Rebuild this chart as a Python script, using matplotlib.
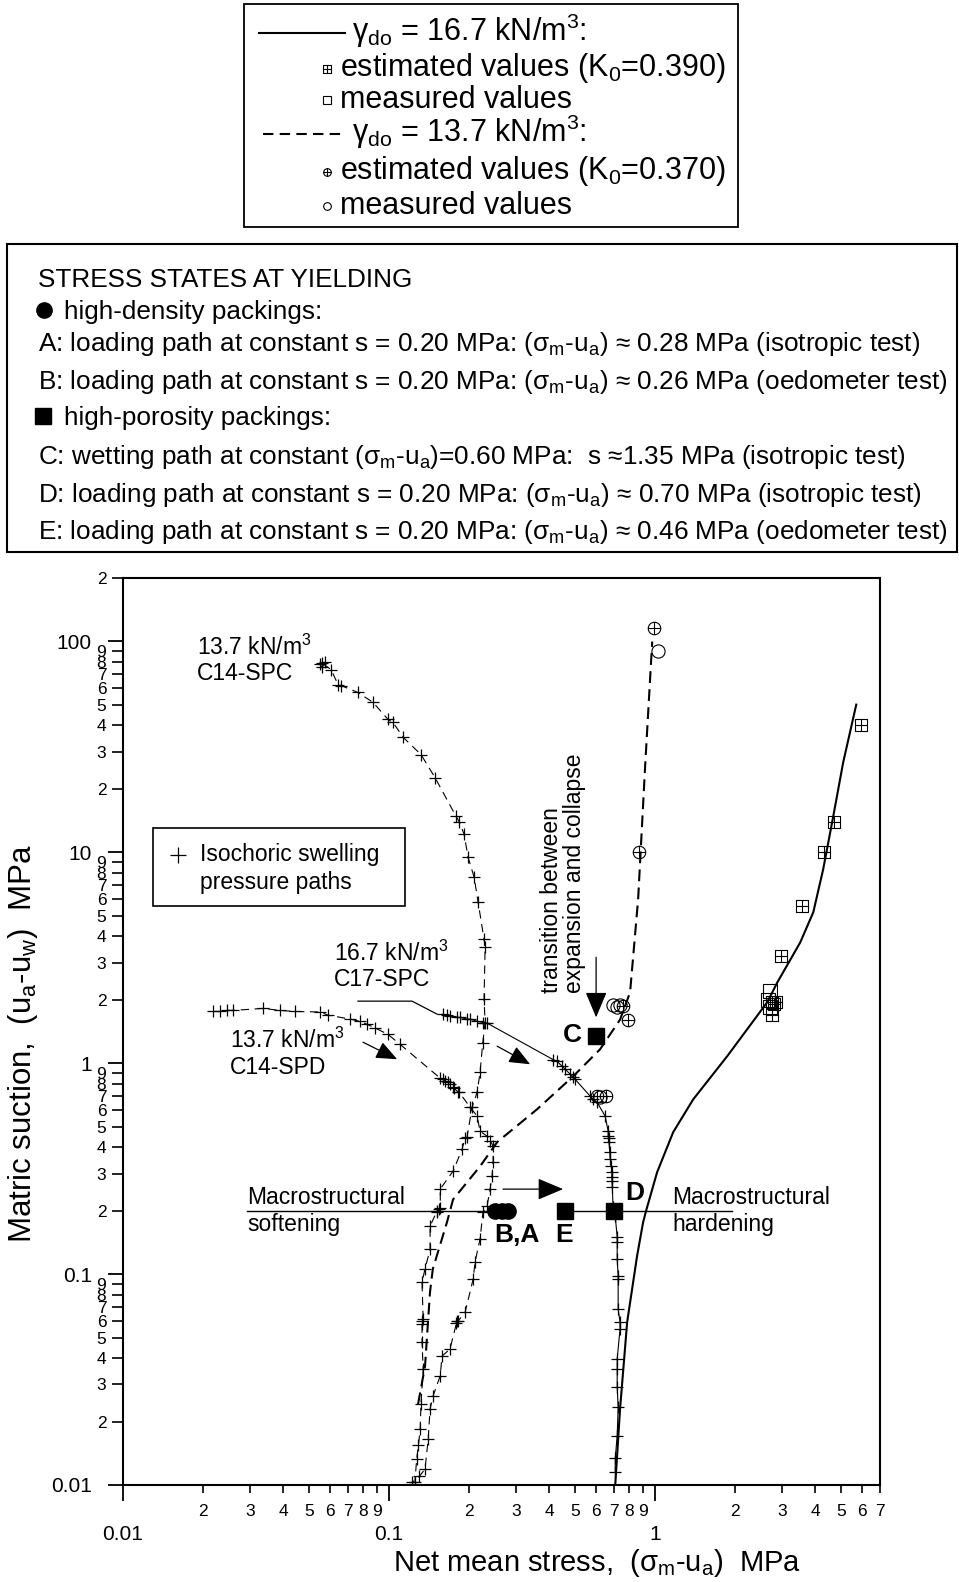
import numpy as np
import matplotlib
matplotlib.use("Agg")
import matplotlib.pyplot as plt
from matplotlib.path import Path
from matplotlib.patches import Rectangle
from matplotlib.lines import Line2D
from matplotlib.ticker import FixedLocator, FixedFormatter, FuncFormatter

plt.rcParams['font.family'] = ['Liberation Sans', 'DejaVu Sans']
plt.rcParams['mathtext.fontset'] = 'custom'
plt.rcParams['mathtext.rm'] = 'Liberation Sans'
plt.rcParams['mathtext.it'] = 'Liberation Sans:italic'
plt.rcParams['mathtext.bf'] = 'Liberation Sans:bold'
plt.rcParams['lines.scale_dashes'] = False

W, H = 959, 1582

# ---------------- model curves (net mean stress p, suction s, MPa) ----------------
model167_p = [0.708, 0.738, 0.785, 0.855, 0.901, 0.925, 1.017, 1.169, 1.39, 1.866,
              2.64, 2.88, 3.51, 3.93, 4.28, 4.67, 5.09, 5.70]
model167_s = [0.01, 0.0229, 0.0593, 0.1216, 0.176, 0.2, 0.304, 0.471, 0.674, 1.08,
              1.95, 2.42, 3.74, 5.2, 8.3, 14.8, 26.7, 50.2]

model137_p = [0.1285, 0.1365, 0.1425, 0.146, 0.165, 0.174, 0.220, 0.255, 0.360,
              0.492, 0.621, 0.738, 0.805, 0.863, 0.917, 0.975]
model137_s = [0.0242, 0.0366, 0.0822, 0.1057, 0.176, 0.226, 0.325, 0.423, 0.605,
              0.867, 1.165, 1.61, 2.17, 5.98, 25.6, 100]

# ---------------- K0 estimates and measurements ----------------
est167_p = [2.75, 2.80, 2.75, 2.85, 2.98, 3.57, 4.32, 4.71, 5.94]
est167_s = [1.95, 1.90, 1.70, 1.95, 3.21, 5.55, 10.0, 13.9, 40.0]
meas167_p = [2.70, 2.65, 2.70]
meas167_s = [2.20, 2.00, 1.85]

est137_p = [0.99, 0.871, 0.758, 0.792, 0.605, 0.655]
est137_s = [116, 10.0, 1.86, 1.61, 0.698, 0.70]
meas137_p = [1.026, 0.695, 0.738, 0.72, 0.62]
meas137_s = [90.6, 1.88, 1.89, 1.85, 0.69]

# ---------------- isochoric swelling pressure paths ----------------
spc14_p = [0.0550, 0.0560, 0.0575, 0.0560, 0.0605, 0.0643, 0.0660, 0.0764, 0.0871,
           0.0991, 0.1035, 0.1130, 0.1318, 0.1489, 0.1786, 0.1833, 0.1914, 0.1982,
           0.2088, 0.2161, 0.2275, 0.2296, 0.2275, 0.2296, 0.225, 0.2198, 0.2143,
           0.2051, 0.1963, 0.1930, 0.1880, 0.1741, 0.1556, 0.156, 0.1541, 0.152,
           0.1514, 0.1426, 0.1426, 0.1365, 0.1330, 0.1343, 0.1335, 0.1330, 0.1330,
           0.1343, 0.1318, 0.1309, 0.1290, 0.1270, 0.1250]
spc14_s = [77.8, 75.3, 79.5, 79.0, 73.6, 62.5, 61.8, 57.3, 51.4,
           42.7, 41.3, 35.1, 29.1, 22.6, 14.8, 14.0, 12.2, 9.46,
           7.62, 5.80, 3.87, 3.55, 2.01, 1.56, 1.25, 0.906, 0.729,
           0.619, 0.446, 0.44, 0.391, 0.308, 0.253, 0.205, 0.203, 0.196,
           0.199, 0.169, 0.131, 0.106, 0.0917, 0.0612, 0.060, 0.0580, 0.0476,
           0.0355, 0.0242, 0.0184, 0.0155, 0.0133, 0.0103]

spd14_p = [0.0218, 0.0232, 0.0246, 0.0259, 0.0336, 0.0389, 0.0443, 0.0550, 0.0590,
           0.0713, 0.0778, 0.0826, 0.0886, 0.0991, 0.1099, 0.1556, 0.1596, 0.1620,
           0.1667, 0.1700, 0.1741, 0.1760, 0.1816, 0.1830, 0.2018, 0.2143, 0.2198,
           0.2335, 0.2400, 0.2460, 0.2460, 0.2438, 0.2397, 0.2335, 0.2254, 0.2198,
           0.2104, 0.2070, 0.1932, 0.1816, 0.1786, 0.1800, 0.1694, 0.1582, 0.1556,
           0.1463, 0.1426, 0.1403, 0.1365, 0.1300, 0.1220]
spd14_s = [1.76, 1.76, 1.78, 1.78, 1.82, 1.78, 1.76, 1.75, 1.69,
           1.62, 1.58, 1.53, 1.47, 1.37, 1.23, 0.85, 0.840, 0.82,
           0.813, 0.80, 0.769, 0.76, 0.729, 0.73, 0.619, 0.561, 0.476,
           0.451, 0.43, 0.404, 0.340, 0.291, 0.253, 0.210, 0.197, 0.147,
           0.114, 0.0947, 0.0661, 0.0598, 0.0586, 0.060, 0.0441, 0.0409, 0.0329,
           0.0264, 0.0229, 0.0165, 0.0119, 0.0110, 0.0103]

spc17_p = [0.1596, 0.1652, 0.1694, 0.1802, 0.1849, 0.1963, 0.2018, 0.2143, 0.2254,
           0.2335, 0.414, 0.428, 0.447, 0.459, 0.479, 0.492, 0.500, 0.570, 0.585,
           0.605, 0.649, 0.666, 0.666, 0.672, 0.671, 0.675, 0.678, 0.684, 0.689,
           0.686, 0.689, 0.690, 0.695, 0.700, 0.708, 0.720, 0.720, 0.720, 0.726,
           0.726, 0.726, 0.738, 0.738, 0.720, 0.720, 0.720, 0.726, 0.720, 0.708,
           0.708]
spc17_s = [1.71, 1.69, 1.67, 1.65, 1.65, 1.62, 1.62, 1.58, 1.56,
           1.55, 1.04, 1.02, 0.968, 0.937, 0.888, 0.859, 0.840, 0.698, 0.675,
           0.653, 0.561, 0.476, 0.451, 0.44, 0.422, 0.38, 0.351, 0.325, 0.304,
           0.29, 0.276, 0.26, 0.208, 0.20, 0.188, 0.150, 0.142, 0.118, 0.098,
           0.0947, 0.0682, 0.0593, 0.0549, 0.0396, 0.0355, 0.0291, 0.0234, 0.0171, 0.0134,
           0.0115]

# ---------------- stress states at yielding ----------------
dense_p = [0.25, 0.265, 0.28]
dense_s = [0.20, 0.20, 0.20]
porous_p = [0.60, 0.46, 0.70]   # C, E, D
porous_s = [1.35, 0.20, 0.20]

x_major = [0.01, 0.1, 1]
x_major_labels = ['0.01', '0.1', '1']
y_major = [0.01, 0.1, 1, 10, 100]
y_major_labels = ['0.01', '0.1', '1', '10', '100']


def fpos(px, py):
    return px / W, 1 - py / H


sq_verts = [(-1, -1), (1, -1), (1, 1), (-1, 1), (-1, -1)]
cross_verts = [(-1, 0), (1, 0), (0, -1), (0, 1)]
cross_codes = [Path.MOVETO, Path.LINETO, Path.MOVETO, Path.LINETO]
boxplus = Path(sq_verts + cross_verts,
               [Path.MOVETO] + [Path.LINETO] * 3 + [Path.CLOSEPOLY] + cross_codes)
oplus = Path.make_compound_path(Path.unit_circle(), Path(cross_verts, cross_codes))

fig = plt.figure(figsize=(W / 100, H / 100), dpi=100)
ax = fig.add_axes([123 / W, 1 - 1485 / H, (880 - 123) / W, (1485 - 578) / H])
ax.set_xscale('log')
ax.set_yscale('log')
ax.set_xlim(0.01, 7)
ax.set_ylim(0.01, 200)

# swelling pressure paths
path_kw = dict(color='k', lw=0.8, marker='+', ms=9, mew=0.9)
ax.plot(spc14_p, spc14_s, dashes=(6, 4), **path_kw)
ax.plot(spd14_p, spd14_s, dashes=(6, 4), **path_kw)
ax.plot(spc17_p, spc17_s, ls='-', **path_kw)

# model curves
ax.plot(model167_p, model167_s, color='k', lw=1.5)
ax.plot(model137_p, model137_s, color='k', lw=1.5, dashes=(8.5, 4.5))

ax.plot(est167_p, est167_s, ls='none', marker=boxplus, ms=9, mfc='none', mec='k', mew=0.8)
ax.plot(meas167_p, meas167_s, ls='none', marker='s', ms=9.5, mfc='none', mec='k', mew=0.8)
ax.plot(est137_p, est137_s, ls='none', marker=oplus, ms=9, mfc='none', mec='k', mew=0.8)
ax.plot(meas137_p, meas137_s, ls='none', marker='o', ms=9.5, mfc='none', mec='k', mew=0.8)

ax.plot(dense_p, dense_s, ls='none', marker='o', ms=11, color='k')
ax.plot(porous_p, porous_s, ls='none', marker='s', ms=11, color='k')

# macrostructural softening / hardening lines
ax.plot([0.0293, 0.25], [0.2, 0.2], color='k', lw=1.0)
ax.plot([0.46, 1.95], [0.2, 0.2], color='k', lw=1.0)
# leader for C17-SPC label
ax.plot([0.0764, 0.122, 0.1514], [1.97, 1.97, 1.71], color='k', lw=0.9)


def arrow(x0, y0, x1, y1, scale=15):
    ax.annotate('', xy=(x1, y1), xytext=(x0, y0),
                arrowprops=dict(arrowstyle='-|>,head_length=1.0,head_width=0.42',
                                mutation_scale=scale, color='k', lw=0.9,
                                shrinkA=0, shrinkB=0))


arrow(0.0798, 1.258, 0.1072, 1.045, 13)
arrow(0.2547, 1.205, 0.339, 0.989, 13)
arrow(0.268, 0.253, 0.451, 0.253, 16)
arrow(0.600, 3.18, 0.600, 1.65, 16)

# axes styling
for sp in ax.spines.values():
    sp.set_linewidth(1.5)

x_minor = [k * 10.0 ** e for e in (-2, -1) for k in range(2, 10)] + [2, 3, 4, 5, 6, 7]
y_minor = [k * 10.0 ** e for e in (-2, -1, 0, 1) for k in range(2, 10)] + [200]


def digit(v, pos):
    return str(int(round(v / 10 ** np.floor(np.log10(v) + 1e-9))))


ax.xaxis.set_major_locator(FixedLocator(x_major))
ax.xaxis.set_major_formatter(FixedFormatter(x_major_labels))
ax.xaxis.set_minor_locator(FixedLocator(x_minor))
ax.xaxis.set_minor_formatter(FuncFormatter(digit))
ax.yaxis.set_major_locator(FixedLocator(y_major))
ax.yaxis.set_major_formatter(FixedFormatter(y_major_labels))
ax.yaxis.set_minor_locator(FixedLocator(y_minor))
ax.yaxis.set_minor_formatter(FuncFormatter(digit))

ax.tick_params(axis='x', which='major', direction='out', length=11.5, width=1.3,
               pad=17, labelsize=15)
ax.tick_params(axis='x', which='minor', direction='out', length=6, width=1.2,
               pad=8, labelsize=12.5)
ax.tick_params(axis='y', which='major', direction='out', length=10.5, width=1.3,
               pad=12, labelsize=15)
ax.tick_params(axis='y', which='minor', direction='out', length=8, width=1.2,
               pad=4, labelsize=12.5)

# axis titles
fig.text(*fpos(597, 1563), 'Net mean stress,  (σ$_\\mathrm{m}$-u$_\\mathrm{a}$)  MPa',
         ha='center', va='center', fontsize=21)
fig.text(*fpos(23, 1044), 'Matric suction,  (u$_\\mathrm{a}$-u$_\\mathrm{w}$)  MPa',
         ha='center', va='center', rotation=90, fontsize=22.5)

# annotations inside the plot
tkw = dict(fontsize=16.5, ha='left', va='center')
fig.text(*fpos(197, 647), '13.7 kN/m$^3$', **tkw)
fig.text(*fpos(197, 673), 'C14-SPC', **tkw)
fig.text(*fpos(334, 953), '16.7 kN/m$^3$', **tkw)
fig.text(*fpos(334, 980), 'C17-SPC', **tkw)
fig.text(*fpos(230, 1040), '13.7 kN/m$^3$', **tkw)
fig.text(*fpos(230, 1068), 'C14-SPD', **tkw)
fig.text(*fpos(247, 1197), 'Macrostructural', **tkw)
fig.text(*fpos(247, 1224), 'softening', **tkw)
fig.text(*fpos(672, 1198), 'Macrostructural', **tkw)
fig.text(*fpos(672, 1225), 'hardening', **tkw)
fig.text(*fpos(563, 993), 'transition between\nexpansion and collapse', fontsize=16.5,
         rotation=90, ha='center', va='bottom', multialignment='left', linespacing=1.05)

bkw = dict(fontsize=19, fontweight='bold', ha='center', va='center')
fig.text(*fpos(572, 1035), 'C', **bkw)
fig.text(*fpos(635, 1193), 'D', **bkw)
fig.text(*fpos(564, 1235), 'E', **bkw)
fig.text(*fpos(517, 1235), 'B,A', **bkw)

# legend for swelling paths
fig.add_artist(Rectangle(fpos(153, 906), (405 - 153) / W, (906 - 828) / H,
                         transform=fig.transFigure, fill=False, lw=1.2, ec='k'))
fig.add_artist(Line2D(*zip(fpos(178, 855)), marker='+', ms=11, mew=0.9, color='k',
                      transform=fig.transFigure))
fig.text(*fpos(200, 855), 'Isochoric swelling', **tkw)
fig.text(*fpos(200, 882), 'pressure paths', **tkw)

# ---------------- legend box: dry densities ----------------
fig.add_artist(Rectangle(fpos(244, 227), (738 - 244) / W, (227 - 4) / H,
                         transform=fig.transFigure, fill=False, lw=1.3, ec='k'))
lkw = dict(fontsize=22, ha='left', va='center')
fig.add_artist(Line2D([259 / W, 345 / W], [1 - 33 / H] * 2, color='k', lw=1.5,
                      transform=fig.transFigure))
fig.text(*fpos(352, 31), 'γ$_\\mathrm{do}$ = 16.7 kN/m$^3$:', **lkw)
fig.add_artist(Line2D(*zip(fpos(327, 69)), marker=boxplus, ms=5.5, mfc='none', mec='k',
                      mew=0.8, transform=fig.transFigure))
fig.text(*fpos(340, 68), 'estimated values (K$_0$=0.390)', **lkw)
fig.add_artist(Line2D(*zip(fpos(327, 100)), marker='s', ms=5.5, mfc='none', mec='k',
                      mew=0.8, transform=fig.transFigure))
fig.text(*fpos(340, 100), 'measured values', **lkw)
fig.add_artist(Line2D([263 / W, 345 / W], [1 - 134 / H] * 2, color='k', lw=1.5,
                      dashes=(7.5, 4.5), transform=fig.transFigure))
fig.text(*fpos(352, 132), 'γ$_\\mathrm{do}$ = 13.7 kN/m$^3$:', **lkw)
fig.add_artist(Line2D(*zip(fpos(327, 172)), marker=oplus, ms=5.5, mfc='none', mec='k',
                      mew=0.8, transform=fig.transFigure))
fig.text(*fpos(340, 171), 'estimated values (K$_0$=0.370)', **lkw)
fig.add_artist(Line2D(*zip(fpos(327, 206)), marker='o', ms=5.5, mfc='none', mec='k',
                      mew=0.8, transform=fig.transFigure))
fig.text(*fpos(340, 206), 'measured values', **lkw)

# ---------------- stress states box ----------------
fig.add_artist(Rectangle(fpos(7, 552), (957 - 7) / W, (552 - 244) / H,
                         transform=fig.transFigure, fill=False, lw=1.5, ec='k'))
skw = dict(fontsize=18.8, ha='left', va='baseline')
sm = '(σ$_\\mathrm{m}$-u$_\\mathrm{a}$)'
fig.text(*fpos(38, 287), 'STRESS STATES AT YIELDING', **skw)
fig.add_artist(Line2D(*zip(fpos(44, 310)), marker='o', ms=11, color='k',
                      transform=fig.transFigure))
fig.text(*fpos(64, 319), 'high-density packings:', **skw)
fig.text(*fpos(38, 351), 'A: loading path at constant s = 0.20 MPa: ' + sm + ' ≈ 0.28 MPa (isotropic test)', **skw)
fig.text(*fpos(38, 389), 'B: loading path at constant s = 0.20 MPa: ' + sm + ' ≈ 0.26 MPa (oedometer test)', **skw)
fig.add_artist(Line2D(*zip(fpos(43, 416)), marker='s', ms=11, color='k',
                      transform=fig.transFigure))
fig.text(*fpos(64, 425), 'high-porosity packings:', **skw)
fig.text(*fpos(38, 464), 'C: wetting path at constant ' + sm + '=0.60 MPa:  s ≈1.35 MPa (isotropic test)', **skw)
fig.text(*fpos(38, 502), 'D: loading path at constant s = 0.20 MPa: ' + sm + ' ≈ 0.70 MPa (isotropic test)', **skw)
fig.text(*fpos(38, 539), 'E: loading path at constant s = 0.20 MPa: ' + sm + ' ≈ 0.46 MPa (oedometer test)', **skw)

fig.savefig('out.png', dpi=100)
